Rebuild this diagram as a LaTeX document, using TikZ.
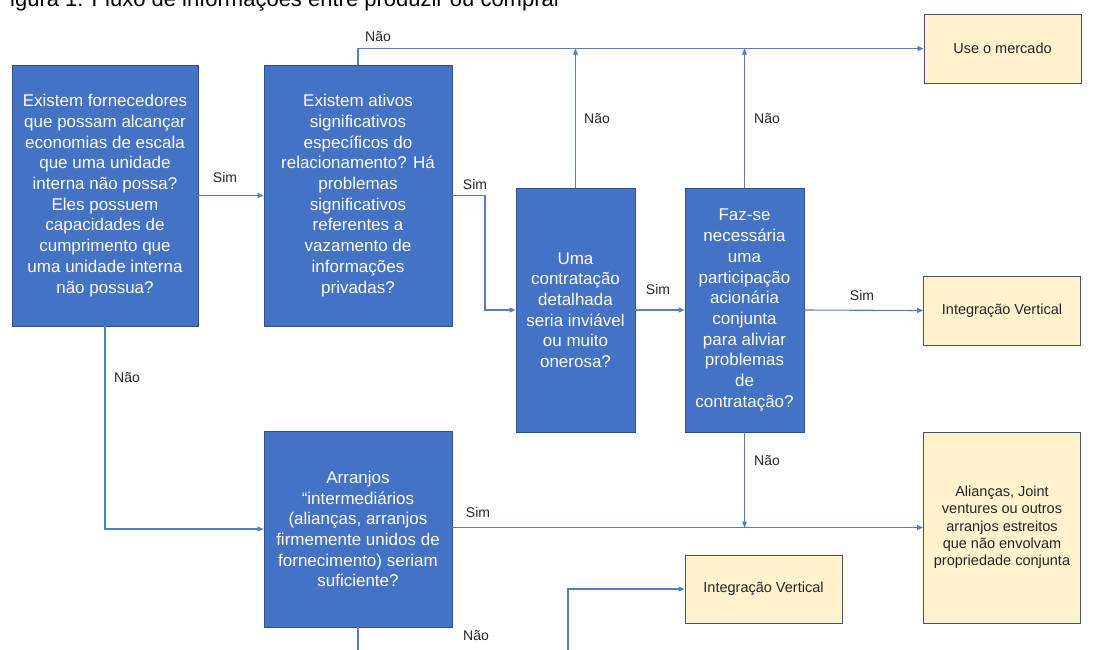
\documentclass[tikz,border=0pt]{standalone}
\usepackage{fontspec}
\setmainfont{Liberation Sans}
\usetikzlibrary{arrows.meta}
\definecolor{boxblue}{RGB}{68,114,196}
\definecolor{boxedge}{RGB}{47,82,143}
\definecolor{tanfill}{RGB}{255,242,204}
\definecolor{tanedge}{RGB}{68,84,106}
\definecolor{linkblue}{RGB}{84,126,192}
\tikzset{
 qbox/.style={draw=boxedge, line width=0.8pt, fill=boxblue, text=white, font=\fontsize{17}{20.7}\selectfont, align=center, inner sep=0pt},
 rbox/.style={draw=tanedge, line width=0.9pt, fill=tanfill, text=black!85, font=\fontsize{14.5}{17.3}\selectfont, align=center, inner sep=0pt, minimum width=157pt},
 lbl/.style={font=\fontsize{14}{16}\selectfont, text=black!85, inner sep=0pt},
 link/.style={draw=linkblue, line width=1.1pt, -{Triangle[length=6pt,width=5pt]}},
 plainlink/.style={draw=linkblue, line width=1.1pt},
}
\begin{document}
\begin{tikzpicture}[x=1pt,y=-1pt]
\useasboundingbox (0,0) rectangle (1110,649);
\clip (0,0) rectangle (1110,649);
\node[anchor=base west, font=\fontsize{22}{26}\selectfont, inner sep=0pt] (cap) at (10,6) {igura 1: Fluxo de informações entre produzir ou comprar};

\node[qbox, minimum width=186pt, minimum height=261pt] (A) at (105,195.5) {Existem fornecedores\\que possam alcançar\\economias de escala\\que uma unidade\\interna não possa?\\Eles possuem\\capacidades de\\cumprimento que\\uma unidade interna\\não possua?};
\node[qbox, minimum width=188pt, minimum height=261pt] (B) at (358,195.5) {Existem ativos\\significativos\\específicos do\\relacionamento? Há\\problemas\\significativos\\referentes a\\vazamento de\\informações\\privadas?};
\node[qbox, minimum width=119pt, minimum height=244pt] (C) at (575.5,310) {Uma\\contratação\\detalhada\\seria inviável\\ou muito\\onerosa?};
\node[qbox, minimum width=119pt, minimum height=244pt] (D) at (744.5,310) {Faz-se\\necessária\\uma\\participação\\acionária\\conjunta\\para aliviar\\problemas\\de\\contratação?};
\node[qbox, minimum width=188pt, minimum height=196pt] (E) at (358,529) {Arranjos\\“intermediários\\(alianças, arranjos\\firmemente unidos de\\fornecimento) seriam\\suficiente?};

\node[rbox, minimum height=69pt] (M) at (1002.5,48.5) {Use o mercado};
\node[rbox, minimum height=69pt] (IV1) at (1002,310.5) {Integração Vertical};
\node[rbox, minimum height=191pt] (AL) at (1002,527.5) {Alianças, Joint\\ventures ou outros\\arranjos estreitos\\que não envolvam\\propriedade conjunta};
\node[rbox, minimum height=68pt] (IV2) at (763.5,589) {Integração Vertical};

\coordinate (bc) at (485,195.5);
\coordinate (ebot) at (358,665);
\coordinate (ivs) at (568,665);

\draw[link] (A.east) -- (B.west);
\draw[link] (A.south) |- (E.west);
\draw[link] (B.north) |- (M.west);
\draw[link] (B.east) -- (bc) |- (C.west);
\draw[link] (C.north) -- (C.north |- M.west);
\draw[link] (C.east) -- (D.west);
\draw[link] (D.north) -- (D.north |- M.west);
\draw[link] (D.east) -- (IV1.west);
\draw[link] (D.south) -- (D.south |- AL.west);
\draw[link] (E.east |- AL.west) -- (AL.west);
\draw[plainlink] (E.south) -- (ebot);
\draw[link] (ivs) |- (IV2.west);

\node[lbl] (s1) at (225,177) {Sim};
\node[lbl] (n1) at (378,37) {Não};
\node[lbl] (s2) at (475,184) {Sim};
\node[lbl] (n2) at (597,119) {Não};
\node[lbl] (s3) at (658,289) {Sim};
\node[lbl] (n3) at (767,119) {Não};
\node[lbl] (s4) at (862,295) {Sim};
\node[lbl] (n4) at (767,461) {Não};
\node[lbl] (n5) at (127,378) {Não};
\node[lbl] (s5) at (478,512) {Sim};
\node[lbl] (n6) at (476,636) {Não};
\end{tikzpicture}
\end{document}
